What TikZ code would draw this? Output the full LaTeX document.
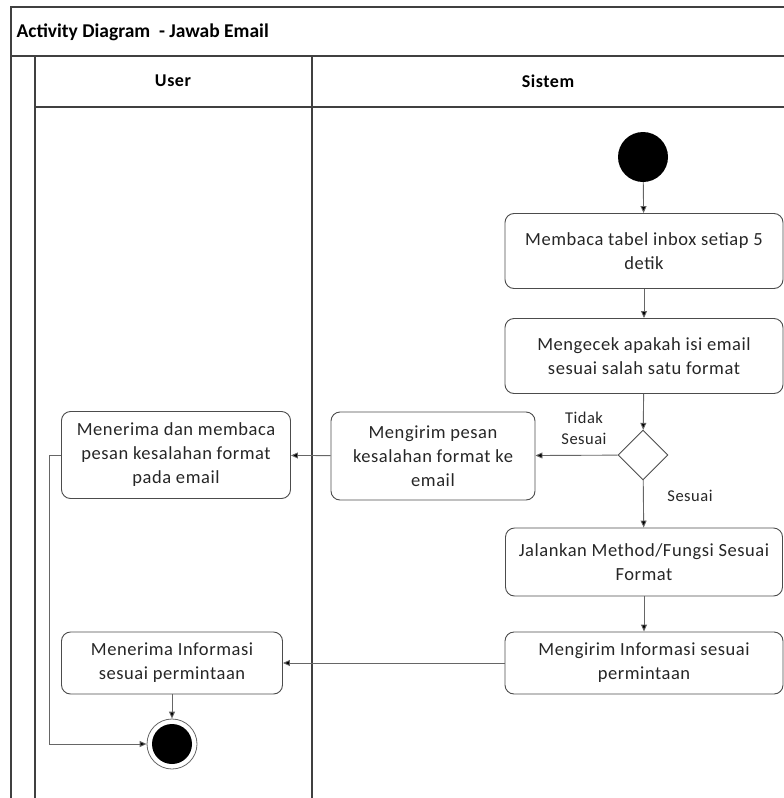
\documentclass[tikz,border=0pt]{standalone}
\usepackage{fontspec}
\setmainfont{Carlito}
\newfontfamily\actfont[LetterSpace=3]{Carlito}
\usetikzlibrary{arrows.meta,shapes.geometric}
\begin{document}
\begin{tikzpicture}[x=1pt,y=-1pt,
  frame/.style={draw=black!75,line width=1.1pt},
  act/.style={draw=black!70,line width=0.9pt,rounded corners=9pt,align=center,font=\actfont\fontsize{18.5}{24}\selectfont,text=black!85,inner sep=0pt},
  flow/.style={draw=black!60,line width=0.9pt,-{Triangle[length=7pt,width=6pt,fill=black]}},
  lbl/.style={font=\actfont\fontsize{16.5}{21}\selectfont,align=center,text=black!85},
  hdr/.style={font=\bfseries\fontsize{19.5}{22}\selectfont}]
\useasboundingbox (0,0) rectangle (784,798);
% frame
\draw[frame] (784,7) -- (11,7) -- (11,798);
\draw[frame] (11,56) -- (784,56);
\draw[frame] (35,56) -- (35,798);
\draw[frame] (312,56) -- (312,798);
\draw[frame] (35,107) -- (784,107);
\node[hdr,anchor=west] (title) at (13,32) {Activity Diagram\ \ - Jawab Email};
\node[hdr,font=\bfseries\actfont\fontsize{18}{22}\selectfont] (huser) at (173,81) {User};
\node[hdr,font=\bfseries\actfont\fontsize{18}{22}\selectfont] (hsis) at (548,81) {Sistem};
% nodes
\node[circle,fill=black,minimum size=50pt,inner sep=0pt] (start) at (643,157) {};
\node[act,minimum width=278pt,minimum height=75pt] (b1) at (644,251) {Membaca tabel inbox setiap 5\\detik};
\node[act,minimum width=278pt,minimum height=75pt] (b2) at (644,356) {Mengecek apakah isi email\\sesuai salah satu format};
\node[diamond,draw=black!70,line width=0.9pt,minimum width=50pt,minimum height=50pt,inner sep=0pt] (dec) at (643,455) {};
\node[act,minimum width=204pt,minimum height=88pt] (kirimerr) at (433,456) {Mengirim pesan\\kesalahan format ke\\email};
\node[act,minimum width=229pt,minimum height=87pt] (terimaerr) at (176,455) {Menerima dan membaca\\pesan kesalahan format\\pada email};
\node[act,minimum width=277pt,minimum height=68pt] (jalan) at (644,562) {Jalankan Method/Fungsi Sesuai\\Format};
\node[act,minimum width=278pt,minimum height=62pt] (kiriminfo) at (644,663) {Mengirim Informasi sesuai\\permintaan};
\node[act,minimum width=221pt,minimum height=62pt] (terimainfo) at (172,663) {Menerima Informasi\\sesuai permintaan};
\node[circle,draw=black!60,line width=0.8pt,minimum size=50pt,inner sep=0pt] (end) at (172,744) {};
\node[circle,fill=black,minimum size=40pt,inner sep=0pt] (endin) at (172,744) {};
\coordinate (c1) at (49,455);
\coordinate (c2) at (49,744);
% flows
\draw[flow] (start) -- (b1);
\draw[flow] (b1) -- (b2);
\draw[flow] (b2) -- (dec);
\draw[flow] (dec) -- (kirimerr);
\draw[flow] (dec) -- (jalan);
\draw[flow] (kirimerr) -- (terimaerr);
\draw[flow] (jalan) -- (kiriminfo);
\draw[flow] (kiriminfo) -- (terimainfo);
\draw[flow] (terimainfo) -- (end);
\draw[flow] (terimaerr.west) -- (c1) -- (c2) -- (end);
% labels
\node[lbl] (ltidak) at (584,428) {Tidak\\Sesuai};
\node[lbl] (lsesuai) at (690,496) {Sesuai};
\end{tikzpicture}
\end{document}
